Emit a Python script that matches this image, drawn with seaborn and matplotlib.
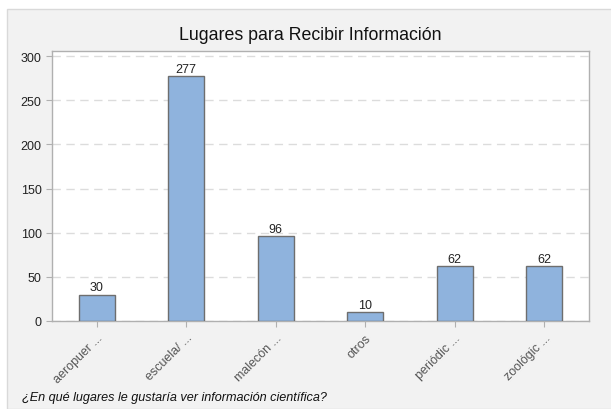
import matplotlib
matplotlib.use('Agg')
import matplotlib.pyplot as plt
from matplotlib.patches import Rectangle
import seaborn as sns
import pandas as pd

categorias = ['aeropuer ...', 'escuela/ ...', 'malecón ...', 'otros', 'periódic ...', 'zoológic ...']
conteos = [30, 277, 96, 10, 62, 62]

df = pd.DataFrame({'lugar': categorias, 'n': conteos})

sns.set_style('white')
plt.rcParams['font.family'] = ['Liberation Sans', 'DejaVu Sans']

fig = plt.figure(figsize=(6.11, 4.10), dpi=100)
fig.patch.set_facecolor('white')
fig.patches.append(Rectangle((7 / 611, 0), 1, 400 / 410, transform=fig.transFigure,
                             facecolor='#f2f2f2', edgecolor='#d9d9d9', lw=1, zorder=-1))

ax = fig.add_axes([52 / 611, 88 / 410, 537 / 611, 270 / 410])
sns.barplot(data=df, x='lugar', y='n', color='#8fb3dd', width=0.4,
            edgecolor='#6e6e6e', linewidth=1, saturation=1, ax=ax, zorder=3)

ax.set_ylim(0, 305.7)
ax.set_yticks([0, 50, 100, 150, 200, 250, 300])
ax.yaxis.grid(True, linestyle=(0, (6, 4)), color='#dcdcdc', lw=1, zorder=0)
ax.set_axisbelow(True)
for s in ax.spines.values():
    s.set_color('#b0b0b0')
    s.set_linewidth(1)

for c in ax.containers:
    ax.bar_label(c, fontsize=9, padding=1, color='#222222')

ax.tick_params(axis='both', which='both', length=4, color='#b0b0b0', direction='out',
               labelsize=9, bottom=True, left=True)
ax.tick_params(axis='y', labelcolor='#222222')
ax.tick_params(axis='x', labelcolor='#555555')
plt.setp(ax.get_xticklabels(), rotation=45, ha='right', rotation_mode='anchor')
ax.set_xlabel('')
ax.set_ylabel('')

fig.text(0.508, 375 / 410, 'Lugares para Recibir Información', ha='center', va='center',
         fontsize=12.8, color='#111111')
fig.text(22 / 611, 12 / 410, '¿En qué lugares le gustaría ver información científica?',
         ha='left', va='center', fontsize=9.1, style='italic', color='#111111')

fig.savefig('out.png', dpi=100)
